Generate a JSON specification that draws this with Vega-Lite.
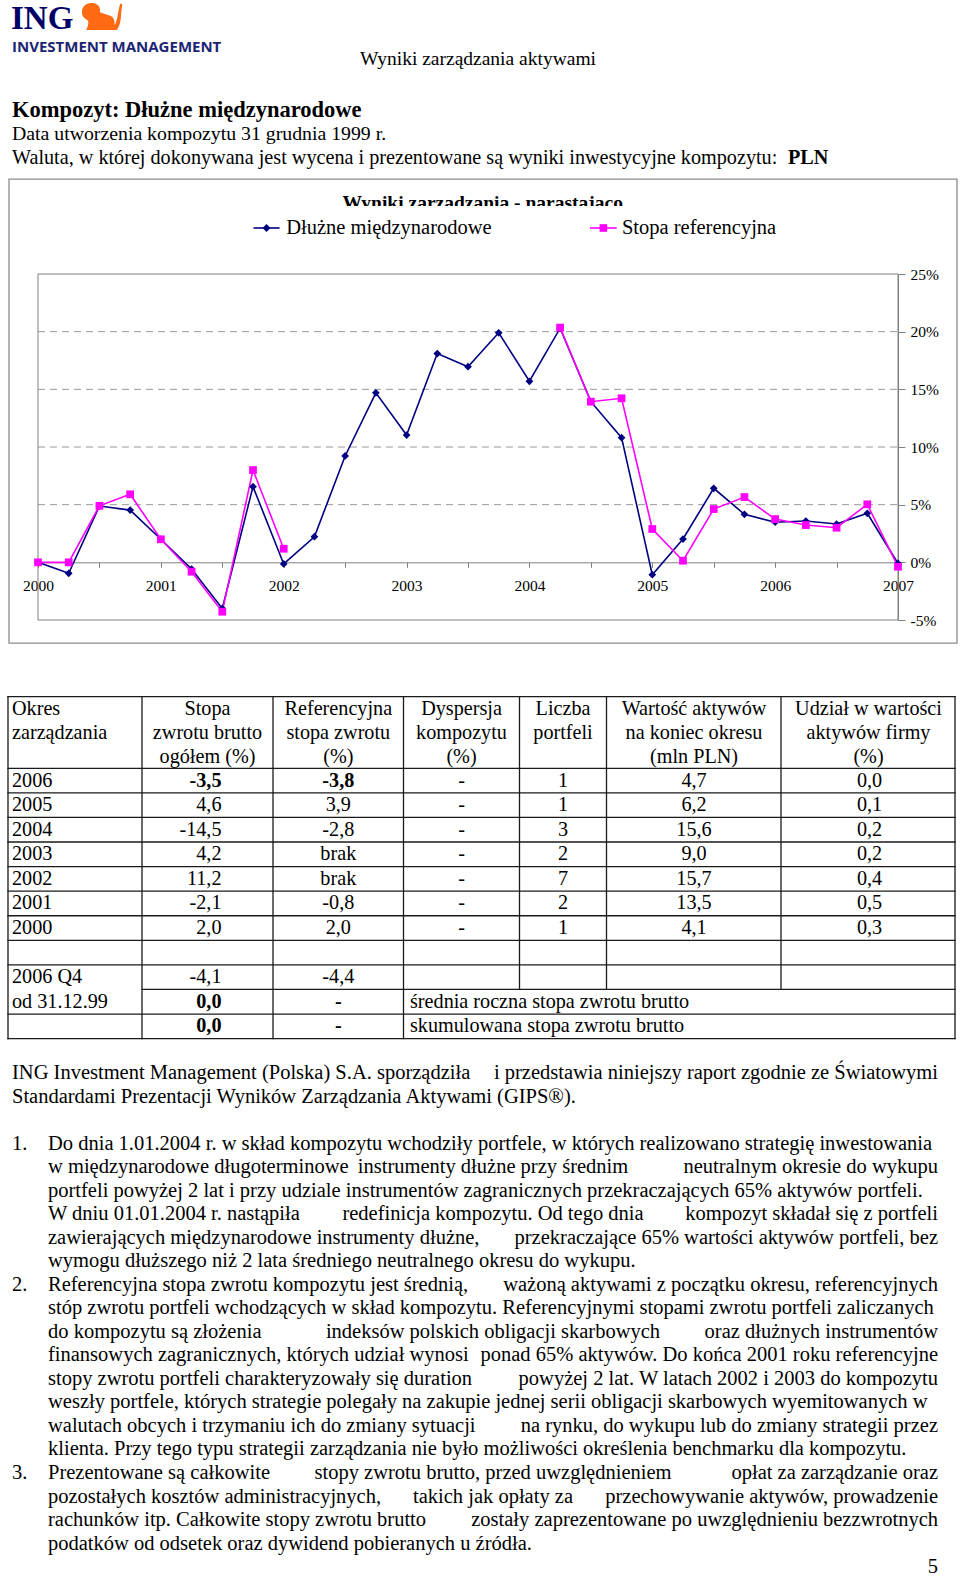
{
  "$schema": "https://vega.github.io/schema/vega-lite/v6.json",
  "width": 960,
  "height": 1578,
  "padding": 0,
  "autosize": {"type": "none"},
  "background": "#ffffff",
  "config": {"view": {"stroke": null}, "text": {"font": "Liberation Serif", "color": "#000000"}},
  "datasets": {
    "wyniki": [
      {"t": 2000, "Dłużne międzynarodowe": 0, "Stopa referencyjna": 0},
      {"t": 2000.25, "Dłużne międzynarodowe": -0.95, "Stopa referencyjna": 0},
      {"t": 2000.5, "Dłużne międzynarodowe": 4.88, "Stopa referencyjna": 4.9},
      {"t": 2000.75, "Dłużne międzynarodowe": 4.53, "Stopa referencyjna": 5.9},
      {"t": 2001, "Dłużne międzynarodowe": 2.0, "Stopa referencyjna": 2.0},
      {"t": 2001.25, "Dłużne międzynarodowe": -0.58, "Stopa referencyjna": -0.81},
      {"t": 2001.5, "Dłużne międzynarodowe": -4.0, "Stopa referencyjna": -4.28},
      {"t": 2001.75, "Dłużne międzynarodowe": 6.56, "Stopa referencyjna": 8.0},
      {"t": 2002, "Dłużne międzynarodowe": -0.14, "Stopa referencyjna": 1.18},
      {"t": 2002.25, "Dłużne międzynarodowe": 2.22, "Stopa referencyjna": null},
      {"t": 2002.5, "Dłużne międzynarodowe": 9.22, "Stopa referencyjna": null},
      {"t": 2002.75, "Dłużne międzynarodowe": 14.7, "Stopa referencyjna": null},
      {"t": 2003, "Dłużne międzynarodowe": 11.04, "Stopa referencyjna": null},
      {"t": 2003.25, "Dłużne międzynarodowe": 18.1, "Stopa referencyjna": null},
      {"t": 2003.5, "Dłużne międzynarodowe": 16.96, "Stopa referencyjna": null},
      {"t": 2003.75, "Dłużne międzynarodowe": 19.9, "Stopa referencyjna": null},
      {"t": 2004, "Dłużne międzynarodowe": 15.7, "Stopa referencyjna": null},
      {"t": 2004.25, "Dłużne międzynarodowe": 20.3, "Stopa referencyjna": 20.35},
      {"t": 2004.5, "Dłużne międzynarodowe": 13.93, "Stopa referencyjna": 13.93},
      {"t": 2004.75, "Dłużne międzynarodowe": 10.81, "Stopa referencyjna": 14.22},
      {"t": 2005, "Dłużne międzynarodowe": -1.07, "Stopa referencyjna": 2.89},
      {"t": 2005.25, "Dłużne międzynarodowe": 2.02, "Stopa referencyjna": 0.14},
      {"t": 2005.5, "Dłużne międzynarodowe": 6.42, "Stopa referencyjna": 4.62},
      {"t": 2005.75, "Dłużne międzynarodowe": 4.16, "Stopa referencyjna": 5.66},
      {"t": 2006, "Dłużne międzynarodowe": 3.48, "Stopa referencyjna": 3.75},
      {"t": 2006.25, "Dłużne międzynarodowe": 3.58, "Stopa referencyjna": 3.23},
      {"t": 2006.5, "Dłużne międzynarodowe": 3.32, "Stopa referencyjna": 3.0},
      {"t": 2006.75, "Dłużne międzynarodowe": 4.25, "Stopa referencyjna": 5.03},
      {"t": 2007, "Dłużne międzynarodowe": -0.1, "Stopa referencyjna": -0.38}
    ],
    "legenda": [
      {"seria": "Dłużne międzynarodowe"},
      {"seria": "Stopa referencyjna"}
    ],
    "tabela": [
      {"r": 1, "c": 1, "txt": "2006"}, {"r": 1, "c": 2, "txt": "-3,5"}, {"r": 1, "c": 3, "txt": "-3,8"}, {"r": 1, "c": 4, "txt": "-"}, {"r": 1, "c": 5, "txt": "1"}, {"r": 1, "c": 6, "txt": "4,7"}, {"r": 1, "c": 7, "txt": "0,0"},
      {"r": 2, "c": 1, "txt": "2005"}, {"r": 2, "c": 2, "txt": "4,6"}, {"r": 2, "c": 3, "txt": "3,9"}, {"r": 2, "c": 4, "txt": "-"}, {"r": 2, "c": 5, "txt": "1"}, {"r": 2, "c": 6, "txt": "6,2"}, {"r": 2, "c": 7, "txt": "0,1"},
      {"r": 3, "c": 1, "txt": "2004"}, {"r": 3, "c": 2, "txt": "-14,5"}, {"r": 3, "c": 3, "txt": "-2,8"}, {"r": 3, "c": 4, "txt": "-"}, {"r": 3, "c": 5, "txt": "3"}, {"r": 3, "c": 6, "txt": "15,6"}, {"r": 3, "c": 7, "txt": "0,2"},
      {"r": 4, "c": 1, "txt": "2003"}, {"r": 4, "c": 2, "txt": "4,2"}, {"r": 4, "c": 3, "txt": "brak"}, {"r": 4, "c": 4, "txt": "-"}, {"r": 4, "c": 5, "txt": "2"}, {"r": 4, "c": 6, "txt": "9,0"}, {"r": 4, "c": 7, "txt": "0,2"},
      {"r": 5, "c": 1, "txt": "2002"}, {"r": 5, "c": 2, "txt": "11,2"}, {"r": 5, "c": 3, "txt": "brak"}, {"r": 5, "c": 4, "txt": "-"}, {"r": 5, "c": 5, "txt": "7"}, {"r": 5, "c": 6, "txt": "15,7"}, {"r": 5, "c": 7, "txt": "0,4"},
      {"r": 6, "c": 1, "txt": "2001"}, {"r": 6, "c": 2, "txt": "-2,1"}, {"r": 6, "c": 3, "txt": "-0,8"}, {"r": 6, "c": 4, "txt": "-"}, {"r": 6, "c": 5, "txt": "2"}, {"r": 6, "c": 6, "txt": "13,5"}, {"r": 6, "c": 7, "txt": "0,5"},
      {"r": 7, "c": 1, "txt": "2000"}, {"r": 7, "c": 2, "txt": "2,0"}, {"r": 7, "c": 3, "txt": "2,0"}, {"r": 7, "c": 4, "txt": "-"}, {"r": 7, "c": 5, "txt": "1"}, {"r": 7, "c": 6, "txt": "4,1"}, {"r": 7, "c": 7, "txt": "0,3"},
      {"r": 9, "c": 1, "txt": "2006 Q4"}, {"r": 9, "c": 2, "txt": "-4,1"}, {"r": 9, "c": 3, "txt": "-4,4"},
      {"r": 10, "c": 1, "txt": "od 31.12.99"}, {"r": 10, "c": 2, "txt": "0,0"}, {"r": 10, "c": 3, "txt": "-"}, {"r": 10, "c": 4, "txt": "średnia roczna stopa zwrotu brutto"},
      {"r": 11, "c": 2, "txt": "0,0"}, {"r": 11, "c": 3, "txt": "-"}, {"r": 11, "c": 4, "txt": "skumulowana stopa zwrotu brutto"}
    ],
    "kolumny": [
      {"l": 0, "c": 1, "txt": "Okres"}, {"l": 1, "c": 1, "txt": "zarządzania"},
      {"l": 0, "c": 2, "txt": "Stopa"}, {"l": 1, "c": 2, "txt": "zwrotu brutto"}, {"l": 2, "c": 2, "txt": "ogółem (%)"},
      {"l": 0, "c": 3, "txt": "Referencyjna"}, {"l": 1, "c": 3, "txt": "stopa zwrotu"}, {"l": 2, "c": 3, "txt": "(%)"},
      {"l": 0, "c": 4, "txt": "Dyspersja"}, {"l": 1, "c": 4, "txt": "kompozytu"}, {"l": 2, "c": 4, "txt": "(%)"},
      {"l": 0, "c": 5, "txt": "Liczba"}, {"l": 1, "c": 5, "txt": "portfeli"},
      {"l": 0, "c": 6, "txt": "Wartość aktywów"}, {"l": 1, "c": 6, "txt": "na koniec okresu"}, {"l": 2, "c": 6, "txt": "(mln PLN)"},
      {"l": 0, "c": 7, "txt": "Udział w wartości"}, {"l": 1, "c": 7, "txt": "aktywów firmy"}, {"l": 2, "c": 7, "txt": "(%)"}
    ],
    "linie_poziome": [
      {"e": 0, "c0": 0, "c1": 7}, {"e": 1, "c0": 0, "c1": 7}, {"e": 2, "c0": 0, "c1": 7}, {"e": 3, "c0": 0, "c1": 7},
      {"e": 4, "c0": 0, "c1": 7}, {"e": 5, "c0": 0, "c1": 7}, {"e": 6, "c0": 0, "c1": 7}, {"e": 7, "c0": 0, "c1": 7},
      {"e": 8, "c0": 0, "c1": 7}, {"e": 9, "c0": 0, "c1": 7}, {"e": 10, "c0": 1, "c1": 7}, {"e": 11, "c0": 0, "c1": 7},
      {"e": 12, "c0": 0, "c1": 7}
    ],
    "linie_pionowe": [
      {"k": 0, "e0": 0, "e1": 12}, {"k": 1, "e0": 0, "e1": 12}, {"k": 2, "e0": 0, "e1": 12}, {"k": 3, "e0": 0, "e1": 12},
      {"k": 4, "e0": 0, "e1": 10}, {"k": 5, "e0": 0, "e1": 10}, {"k": 6, "e0": 0, "e1": 10}, {"k": 7, "e0": 0, "e1": 12}
    ],
    "stopka": [
      {"blk": "intro", "line": -3, "seg": "L", "text": "ING Investment Management (Polska) S.A. sporządziła"},
      {"blk": "intro", "line": -3, "seg": "R", "text": "i przedstawia niniejszy raport zgodnie ze Światowymi"},
      {"blk": "intro", "line": -2, "seg": "L", "text": "Standardami Prezentacji Wyników Zarządzania Aktywami (GIPS®)."},
      {"blk": "num", "line": 0, "seg": "L", "text": "1."},
      {"blk": "item", "line": 0, "seg": "L", "text": "Do dnia 1.01.2004 r. w skład kompozytu wchodziły portfele, w których realizowano strategię inwestowania"},
      {"blk": "item", "line": 1, "seg": "L", "text": "w międzynarodowe długoterminowe"},
      {"blk": "item", "line": 1, "seg": "C", "text": "instrumenty dłużne przy średnim"},
      {"blk": "item", "line": 1, "seg": "R", "text": "neutralnym okresie do wykupu"},
      {"blk": "item", "line": 2, "seg": "L", "text": "portfeli powyżej 2 lat i przy udziale instrumentów zagranicznych przekraczających 65% aktywów portfeli."},
      {"blk": "item", "line": 3, "seg": "L", "text": "W dniu 01.01.2004 r. nastąpiła"},
      {"blk": "item", "line": 3, "seg": "C", "text": "redefinicja kompozytu. Od tego dnia"},
      {"blk": "item", "line": 3, "seg": "R", "text": "kompozyt składał się z portfeli"},
      {"blk": "item", "line": 4, "seg": "L", "text": "zawierających międzynarodowe instrumenty dłużne,"},
      {"blk": "item", "line": 4, "seg": "R", "text": "przekraczające 65% wartości aktywów portfeli, bez"},
      {"blk": "item", "line": 5, "seg": "L", "text": "wymogu dłuższego niż 2 lata średniego neutralnego okresu do wykupu."},
      {"blk": "num", "line": 6, "seg": "L", "text": "2."},
      {"blk": "item", "line": 6, "seg": "L", "text": "Referencyjna stopa zwrotu kompozytu jest średnią,"},
      {"blk": "item", "line": 6, "seg": "R", "text": "ważoną aktywami z początku okresu, referencyjnych"},
      {"blk": "item", "line": 7, "seg": "L", "text": "stóp zwrotu portfeli wchodzących w skład kompozytu. Referencyjnymi stopami zwrotu portfeli zaliczanych"},
      {"blk": "item", "line": 8, "seg": "L", "text": "do kompozytu są złożenia"},
      {"blk": "item", "line": 8, "seg": "C", "text": "indeksów polskich obligacji skarbowych"},
      {"blk": "item", "line": 8, "seg": "R", "text": "oraz dłużnych instrumentów"},
      {"blk": "item", "line": 9, "seg": "L", "text": "finansowych zagranicznych, których udział wynosi"},
      {"blk": "item", "line": 9, "seg": "R", "text": "ponad 65% aktywów. Do końca 2001 roku referencyjne"},
      {"blk": "item", "line": 10, "seg": "L", "text": "stopy zwrotu portfeli charakteryzowały się duration"},
      {"blk": "item", "line": 10, "seg": "R", "text": "powyżej 2 lat. W latach 2002 i 2003 do kompozytu"},
      {"blk": "item", "line": 11, "seg": "L", "text": "weszły portfele, których strategie polegały na zakupie jednej serii obligacji skarbowych wyemitowanych w"},
      {"blk": "item", "line": 12, "seg": "L", "text": "walutach obcych i trzymaniu ich do zmiany sytuacji"},
      {"blk": "item", "line": 12, "seg": "R", "text": "na rynku, do wykupu lub do zmiany strategii przez"},
      {"blk": "item", "line": 13, "seg": "L", "text": "klienta. Przy tego typu strategii zarządzania nie było możliwości określenia benchmarku dla kompozytu."},
      {"blk": "num", "line": 14, "seg": "L", "text": "3."},
      {"blk": "item", "line": 14, "seg": "L", "text": "Prezentowane są całkowite"},
      {"blk": "item", "line": 14, "seg": "C", "text": "stopy zwrotu brutto, przed uwzględnieniem"},
      {"blk": "item", "line": 14, "seg": "R", "text": "opłat za zarządzanie oraz"},
      {"blk": "item", "line": 15, "seg": "L", "text": "pozostałych kosztów administracyjnych,"},
      {"blk": "item", "line": 15, "seg": "C", "text": "takich jak opłaty za"},
      {"blk": "item", "line": 15, "seg": "R", "text": "przechowywanie aktywów, prowadzenie"},
      {"blk": "item", "line": 16, "seg": "L", "text": "rachunków itp. Całkowite stopy zwrotu brutto"},
      {"blk": "item", "line": 16, "seg": "R", "text": "zostały zaprezentowane po uwzględnieniu bezzwrotnych"},
      {"blk": "item", "line": 17, "seg": "L", "text": "podatków od odsetek oraz dywidend pobieranych u źródła."},
      {"blk": "page", "line": 18, "seg": "R", "text": "5"}
    ]
  },
  "layer": [
    {
      "layer": [
        {
          "data": {"values": [{"logo": "ING"}]},
          "mark": {"type": "text", "font": "Liberation Serif", "fontWeight": "bold", "fontSize": 33, "color": "#000066", "align": "left", "baseline": "alphabetic"},
          "encoding": {"text": {"field": "logo"}, "x": {"value": 11}, "y": {"value": 29}}
        },
        {
          "data": {"values": [{"logo": "lew"}]},
          "mark": {"type": "point", "shape": "M-0.95,-0.15 C-1,-0.5 -0.7,-0.68 -0.45,-0.64 C-0.2,-0.62 -0.05,-0.45 -0.1,-0.2 L0.35,-0.05 C0.55,0 0.62,0.2 0.6,0.4 C0.75,0.2 0.75,-0.25 0.85,-0.55 C0.92,-0.7 1,-0.55 0.95,-0.45 C0.88,-0.1 0.95,0.35 0.7,0.64 L-0.75,0.64 C-0.7,0.5 -0.62,0.35 -0.66,0.2 C-0.85,0.1 -0.95,0 -0.95,-0.15 Z", "filled": true, "color": "#ff6a13", "size": 1764, "opacity": 1},
          "encoding": {"x": {"value": 102}, "y": {"value": 16.5}}
        },
        {
          "data": {"values": [{"logo": "INVESTMENT MANAGEMENT"}]},
          "mark": {"type": "text", "font": "Open Sans", "fontWeight": "bold", "fontSize": 15, "color": "#1c2473", "align": "left", "baseline": "alphabetic"},
          "encoding": {"text": {"field": "logo"}, "x": {"value": 12}, "y": {"value": 51.7}}
        },
        {
          "data": {"values": [{"tekst": "Wyniki zarządzania aktywami"}]},
          "mark": {"type": "text", "font": "Liberation Serif", "fontSize": 19.5, "align": "left", "baseline": "middle"},
          "encoding": {"text": {"field": "tekst"}, "x": {"value": 360}, "y": {"value": 58.5}}
        },
        {
          "data": {"values": [{"tekst": "Kompozyt: Dłużne międzynarodowe"}]},
          "mark": {"type": "text", "font": "Liberation Serif", "fontWeight": "bold", "fontSize": 22.5, "align": "left", "baseline": "middle"},
          "encoding": {"text": {"field": "tekst"}, "x": {"value": 12}, "y": {"value": 109.5}}
        },
        {
          "data": {"values": [{"tekst": "Data utworzenia kompozytu 31 grudnia 1999 r."}]},
          "mark": {"type": "text", "font": "Liberation Serif", "fontSize": 19.8, "align": "left", "baseline": "middle"},
          "encoding": {"text": {"field": "tekst"}, "x": {"value": 12}, "y": {"value": 134}}
        },
        {
          "data": {"values": [{"tekst": "Waluta, w której dokonywana jest wycena i prezentowane są wyniki inwestycyjne kompozytu:"}]},
          "mark": {"type": "text", "font": "Liberation Serif", "fontSize": 20.2, "align": "left", "baseline": "middle"},
          "encoding": {"text": {"field": "tekst"}, "x": {"value": 12}, "y": {"value": 158}}
        },
        {
          "data": {"values": [{"tekst": "PLN"}]},
          "mark": {"type": "text", "font": "Liberation Serif", "fontWeight": "bold", "fontSize": 20.2, "align": "left", "baseline": "middle"},
          "encoding": {"text": {"field": "tekst"}, "x": {"value": 788}, "y": {"value": 158}}
        }
      ]
    },
    {
      "layer": [
        {
          "data": {"values": [{"ramka": "wykres"}]},
          "mark": {"type": "rect", "fill": null, "stroke": "#8c8c8c", "strokeWidth": 1.3},
          "encoding": {
            "x": {"datum": 1999.764, "type": "quantitative", "scale": {"domain": [2000, 2007], "range": [38, 898], "nice": false, "zero": false}},
            "x2": {"datum": 2007.48},
            "y": {"datum": 33.23, "type": "quantitative", "scale": {"domain": [-5, 25], "range": [620, 274], "nice": false, "zero": false}},
            "y2": {"datum": -7.0}
          }
        },
        {
          "data": {"values": [{"poziom": 5}, {"poziom": 10}, {"poziom": 15}, {"poziom": 20}]},
          "mark": {"type": "rule", "stroke": "#9a9a9a", "strokeWidth": 1, "strokeDash": [7, 5]},
          "encoding": {
            "x": {"datum": 2000, "type": "quantitative", "scale": {"domain": [2000, 2007], "range": [38, 898], "nice": false, "zero": false}},
            "x2": {"datum": 2007},
            "y": {"field": "poziom", "type": "quantitative", "scale": {"domain": [-5, 25], "range": [620, 274], "nice": false, "zero": false}}
          }
        },
        {
          "data": {"values": [{"ramka": "obszar"}]},
          "mark": {"type": "rect", "fill": null, "stroke": "#808080", "strokeWidth": 1},
          "encoding": {
            "x": {"datum": 2000, "type": "quantitative", "scale": {"domain": [2000, 2007], "range": [38, 898], "nice": false, "zero": false}},
            "x2": {"datum": 2007},
            "y": {"datum": 25, "type": "quantitative", "scale": {"domain": [-5, 25], "range": [620, 274], "nice": false, "zero": false}},
            "y2": {"datum": -5}
          }
        },
        {
          "data": {"values": [{"tytul": "Wyniki zarządzania - narastająco"}]},
          "mark": {"type": "text", "font": "Liberation Serif", "fontWeight": "bold", "fontSize": 19.5, "align": "center", "baseline": "alphabetic"},
          "encoding": {
            "text": {"field": "tytul"},
            "x": {"datum": 2003.62, "type": "quantitative", "scale": {"domain": [2000, 2007], "range": [38, 898], "nice": false, "zero": false}},
            "y": {"datum": 30.63, "type": "quantitative", "scale": {"domain": [-5, 25], "range": [620, 274], "nice": false, "zero": false}}
          }
        },
        {
          "data": {"values": [{"tlo": "legenda"}]},
          "mark": {"type": "rect", "fill": "#ffffff", "stroke": null},
          "encoding": {
            "x": {"datum": 2002.3, "type": "quantitative", "scale": {"domain": [2000, 2007], "range": [38, 898], "nice": false, "zero": false}},
            "x2": {"datum": 2005.2},
            "y": {"datum": 30.89, "type": "quantitative", "scale": {"domain": [-5, 25], "range": [620, 274], "nice": false, "zero": false}},
            "y2": {"datum": 30.0}
          }
        },
        {
          "data": {"name": "legenda"},
          "transform": [{"filter": "datum.seria === 'Dłużne międzynarodowe'"}],
          "mark": {"type": "rule", "stroke": "#000080", "strokeWidth": 1.6},
          "encoding": {
            "x": {"datum": 2001.754, "type": "quantitative", "scale": {"domain": [2000, 2007], "range": [38, 898], "nice": false, "zero": false}},
            "x2": {"datum": 2001.966},
            "y": {"datum": 28.99, "type": "quantitative", "scale": {"domain": [-5, 25], "range": [620, 274], "nice": false, "zero": false}}
          }
        },
        {
          "data": {"name": "legenda"},
          "transform": [{"filter": "datum.seria === 'Dłużne międzynarodowe'"}],
          "mark": {"type": "point", "shape": "diamond", "filled": true, "color": "#000080", "size": 62, "opacity": 1},
          "encoding": {
            "x": {"datum": 2001.86, "type": "quantitative", "scale": {"domain": [2000, 2007], "range": [38, 898], "nice": false, "zero": false}},
            "y": {"datum": 28.99, "type": "quantitative", "scale": {"domain": [-5, 25], "range": [620, 274], "nice": false, "zero": false}}
          }
        },
        {
          "data": {"name": "legenda"},
          "transform": [{"filter": "datum.seria === 'Dłużne międzynarodowe'"}],
          "mark": {"type": "text", "font": "Liberation Serif", "fontSize": 20.5, "align": "left", "baseline": "middle"},
          "encoding": {
            "text": {"field": "seria"},
            "x": {"datum": 2002.02, "type": "quantitative", "scale": {"domain": [2000, 2007], "range": [38, 898], "nice": false, "zero": false}},
            "y": {"datum": 28.99, "type": "quantitative", "scale": {"domain": [-5, 25], "range": [620, 274], "nice": false, "zero": false}}
          }
        },
        {
          "data": {"name": "legenda"},
          "transform": [{"filter": "datum.seria === 'Stopa referencyjna'"}],
          "mark": {"type": "rule", "stroke": "#ff00ff", "strokeWidth": 1.6},
          "encoding": {
            "x": {"datum": 2004.493, "type": "quantitative", "scale": {"domain": [2000, 2007], "range": [38, 898], "nice": false, "zero": false}},
            "x2": {"datum": 2004.71},
            "y": {"datum": 28.99, "type": "quantitative", "scale": {"domain": [-5, 25], "range": [620, 274], "nice": false, "zero": false}}
          }
        },
        {
          "data": {"name": "legenda"},
          "transform": [{"filter": "datum.seria === 'Stopa referencyjna'"}],
          "mark": {"type": "point", "shape": "square", "filled": true, "color": "#ff00ff", "size": 58, "opacity": 1},
          "encoding": {
            "x": {"datum": 2004.602, "type": "quantitative", "scale": {"domain": [2000, 2007], "range": [38, 898], "nice": false, "zero": false}},
            "y": {"datum": 28.99, "type": "quantitative", "scale": {"domain": [-5, 25], "range": [620, 274], "nice": false, "zero": false}}
          }
        },
        {
          "data": {"name": "legenda"},
          "transform": [{"filter": "datum.seria === 'Stopa referencyjna'"}],
          "mark": {"type": "text", "font": "Liberation Serif", "fontSize": 20.5, "align": "left", "baseline": "middle"},
          "encoding": {
            "text": {"field": "seria"},
            "x": {"datum": 2004.753, "type": "quantitative", "scale": {"domain": [2000, 2007], "range": [38, 898], "nice": false, "zero": false}},
            "y": {"datum": 28.99, "type": "quantitative", "scale": {"domain": [-5, 25], "range": [620, 274], "nice": false, "zero": false}}
          }
        },
        {
          "data": {"name": "wyniki"},
          "transform": [
            {"fold": ["Dłużne międzynarodowe", "Stopa referencyjna"], "as": ["seria", "wartosc"]},
            {"filter": "datum.seria === 'Dłużne międzynarodowe'"}
          ],
          "mark": {"type": "line", "color": "#000080", "strokeWidth": 1.6},
          "encoding": {
            "x": {"field": "t", "type": "quantitative", "scale": {"domain": [2000, 2007], "range": [38, 898], "nice": false, "zero": false},
              "axis": {"orient": "bottom", "offset": -1015.7, "title": null, "grid": false,
                "values": [2000, 2000.25, 2000.5, 2000.75, 2001, 2001.25, 2001.5, 2001.75, 2002, 2002.25, 2002.5, 2002.75, 2003, 2003.25, 2003.5, 2003.75, 2004, 2004.25, 2004.5, 2004.75, 2005, 2005.25, 2005.5, 2005.75, 2006, 2006.25, 2006.5, 2006.75, 2007],
                "labelExpr": "datum.value % 1 === 0 ? format(datum.value, 'd') : ''",
                "domainColor": "#808080", "domainWidth": 1, "tickColor": "#808080", "tickWidth": 1, "tickSize": 5,
                "labelFont": "Liberation Serif", "labelFontSize": 15.5, "labelColor": "#000000", "labelPadding": 11.5,
                "labelFlush": false, "labelOverlap": false, "labelBound": false}},
            "y": {"field": "wartosc", "type": "quantitative", "scale": {"domain": [-5, 25], "range": [620, 274], "nice": false, "zero": false},
              "axis": {"orient": "right", "offset": -62, "title": null, "grid": false,
                "values": [-5, 0, 5, 10, 15, 20, 25],
                "labelExpr": "datum.value + '%'",
                "domainColor": "#808080", "domainWidth": 1, "tickColor": "#808080", "tickWidth": 1, "tickSize": 7,
                "labelFont": "Liberation Serif", "labelFontSize": 15.5, "labelColor": "#000000", "labelPadding": 5,
                "labelOverlap": false, "labelBound": false}}
          }
        },
        {
          "data": {"name": "wyniki"},
          "transform": [
            {"fold": ["Dłużne międzynarodowe", "Stopa referencyjna"], "as": ["seria", "wartosc"]},
            {"filter": "datum.seria === 'Stopa referencyjna'"}
          ],
          "mark": {"type": "line", "color": "#ff00ff", "strokeWidth": 1.6, "invalid": "break-paths-filter-domains"},
          "encoding": {
            "x": {"field": "t", "type": "quantitative", "scale": {"domain": [2000, 2007], "range": [38, 898], "nice": false, "zero": false}},
            "y": {"field": "wartosc", "type": "quantitative", "scale": {"domain": [-5, 25], "range": [620, 274], "nice": false, "zero": false}}
          }
        },
        {
          "data": {"name": "wyniki"},
          "transform": [
            {"fold": ["Dłużne międzynarodowe", "Stopa referencyjna"], "as": ["seria", "wartosc"]},
            {"filter": "isValid(datum.wartosc)"}
          ],
          "mark": {"type": "point", "filled": true, "size": 60, "opacity": 1},
          "encoding": {
            "x": {"field": "t", "type": "quantitative", "scale": {"domain": [2000, 2007], "range": [38, 898], "nice": false, "zero": false}},
            "y": {"field": "wartosc", "type": "quantitative", "scale": {"domain": [-5, 25], "range": [620, 274], "nice": false, "zero": false}},
            "color": {"field": "seria", "type": "nominal",
              "scale": {"domain": ["Dłużne międzynarodowe", "Stopa referencyjna"], "range": ["#000080", "#ff00ff"]},
              "legend": null},
            "shape": {"field": "seria", "type": "nominal",
              "scale": {"domain": ["Dłużne międzynarodowe", "Stopa referencyjna"], "range": ["diamond", "square"]},
              "legend": null}
          }
        }
      ]
    },
    {
      "layer": [
        {
          "data": {"name": "linie_poziome"},
          "mark": {"type": "rule", "stroke": "#1a1a1a", "strokeWidth": 1.3, "strokeCap": "square"},
          "encoding": {
            "x": {"field": "c0", "type": "quantitative", "scale": {"domain": [0, 1, 2, 3, 4, 5, 6, 7], "range": [8, 142, 273, 403.5, 519.5, 606.5, 781, 955], "nice": false, "zero": false}, "axis": null},
            "x2": {"field": "c1"},
            "y": {"field": "e", "type": "quantitative", "scale": {"domain": [0, 1, 12], "range": [696.7, 768.3, 1038.6], "nice": false, "zero": false}, "axis": null}
          }
        },
        {
          "data": {"name": "linie_pionowe"},
          "mark": {"type": "rule", "stroke": "#1a1a1a", "strokeWidth": 1.3, "strokeCap": "square"},
          "encoding": {
            "x": {"field": "k", "type": "quantitative", "scale": {"domain": [0, 1, 2, 3, 4, 5, 6, 7], "range": [8, 142, 273, 403.5, 519.5, 606.5, 781, 955], "nice": false, "zero": false}, "axis": null},
            "y": {"field": "e0", "type": "quantitative", "scale": {"domain": [0, 1, 12], "range": [696.7, 768.3, 1038.6], "nice": false, "zero": false}, "axis": null},
            "y2": {"field": "e1"}
          }
        }
      ]
    },
    {
      "data": {"name": "kolumny"},
      "layer": [
        {
          "transform": [{"filter": "datum.c === 1"}],
          "mark": {"type": "text", "font": "Liberation Serif", "fontSize": 20.2, "align": "left", "baseline": "middle"},
          "encoding": {
            "text": {"field": "txt"},
            "x": {"field": "c", "type": "quantitative", "scale": {"domain": [1, 2, 3, 4, 5, 6, 7], "range": [12, 207.5, 338.3, 461.5, 563, 694, 868.5], "nice": false, "zero": false}, "axis": null},
            "y": {"field": "l", "type": "quantitative", "scale": {"domain": [0, 2], "range": [709.3, 756.7], "nice": false, "zero": false}, "axis": null}
          }
        },
        {
          "transform": [{"filter": "datum.c > 1"}],
          "mark": {"type": "text", "font": "Liberation Serif", "fontSize": 20.2, "align": "center", "baseline": "middle"},
          "encoding": {
            "text": {"field": "txt"},
            "x": {"field": "c", "type": "quantitative", "scale": {"domain": [1, 2, 3, 4, 5, 6, 7], "range": [12, 207.5, 338.3, 461.5, 563, 694, 868.5], "nice": false, "zero": false}, "axis": null},
            "y": {"field": "l", "type": "quantitative", "scale": {"domain": [0, 2], "range": [709.3, 756.7], "nice": false, "zero": false}, "axis": null}
          }
        }
      ]
    },
    {
      "data": {"name": "tabela"},
      "layer": [
        {
          "transform": [{"filter": "datum.c === 1"}],
          "mark": {"type": "text", "font": "Liberation Serif", "fontSize": 20.2, "align": "left", "baseline": "middle"},
          "encoding": {
            "text": {"field": "txt"},
            "x": {"field": "c", "type": "quantitative", "scale": {"domain": [1, 2, 3, 4, 5, 6, 7], "range": [12, 207.5, 338.3, 461.5, 563, 694, 869.5], "nice": false, "zero": false}, "axis": null},
            "y": {"field": "r", "type": "quantitative", "scale": {"domain": [1, 11], "range": [780.6, 1026.3], "nice": false, "zero": false}, "axis": null}
          }
        },
        {
          "transform": [{"filter": "datum.c === 2 && !(datum.r === 1 || datum.r >= 10)"}],
          "mark": {"type": "text", "font": "Liberation Serif", "fontSize": 20.2, "align": "right", "baseline": "middle", "dx": 14},
          "encoding": {
            "text": {"field": "txt"},
            "x": {"field": "c", "type": "quantitative", "scale": {"domain": [1, 2, 3, 4, 5, 6, 7], "range": [12, 207.5, 338.3, 461.5, 563, 694, 869.5], "nice": false, "zero": false}, "axis": null},
            "y": {"field": "r", "type": "quantitative", "scale": {"domain": [1, 11], "range": [780.6, 1026.3], "nice": false, "zero": false}, "axis": null}
          }
        },
        {
          "transform": [{"filter": "datum.c === 2 && (datum.r === 1 || datum.r >= 10)"}],
          "mark": {"type": "text", "font": "Liberation Serif", "fontSize": 20.2, "fontWeight": "bold", "align": "right", "baseline": "middle", "dx": 14},
          "encoding": {
            "text": {"field": "txt"},
            "x": {"field": "c", "type": "quantitative", "scale": {"domain": [1, 2, 3, 4, 5, 6, 7], "range": [12, 207.5, 338.3, 461.5, 563, 694, 869.5], "nice": false, "zero": false}, "axis": null},
            "y": {"field": "r", "type": "quantitative", "scale": {"domain": [1, 11], "range": [780.6, 1026.3], "nice": false, "zero": false}, "axis": null}
          }
        },
        {
          "transform": [{"filter": "datum.c === 3 && (datum.r === 1 || datum.r >= 10)"}],
          "mark": {"type": "text", "font": "Liberation Serif", "fontSize": 20.2, "fontWeight": "bold", "align": "center", "baseline": "middle"},
          "encoding": {
            "text": {"field": "txt"},
            "x": {"field": "c", "type": "quantitative", "scale": {"domain": [1, 2, 3, 4, 5, 6, 7], "range": [12, 207.5, 338.3, 461.5, 563, 694, 869.5], "nice": false, "zero": false}, "axis": null},
            "y": {"field": "r", "type": "quantitative", "scale": {"domain": [1, 11], "range": [780.6, 1026.3], "nice": false, "zero": false}, "axis": null}
          }
        },
        {
          "transform": [{"filter": "datum.c >= 3 && !(datum.c === 3 && (datum.r === 1 || datum.r >= 10)) && !(datum.c === 4 && datum.r >= 10)"}],
          "mark": {"type": "text", "font": "Liberation Serif", "fontSize": 20.2, "align": "center", "baseline": "middle"},
          "encoding": {
            "text": {"field": "txt"},
            "x": {"field": "c", "type": "quantitative", "scale": {"domain": [1, 2, 3, 4, 5, 6, 7], "range": [12, 207.5, 338.3, 461.5, 563, 694, 869.5], "nice": false, "zero": false}, "axis": null},
            "y": {"field": "r", "type": "quantitative", "scale": {"domain": [1, 11], "range": [780.6, 1026.3], "nice": false, "zero": false}, "axis": null}
          }
        },
        {
          "transform": [{"filter": "datum.c === 4 && datum.r >= 10"}],
          "mark": {"type": "text", "font": "Liberation Serif", "fontSize": 20.2, "align": "left", "baseline": "middle", "dx": -51.5},
          "encoding": {
            "text": {"field": "txt"},
            "x": {"field": "c", "type": "quantitative", "scale": {"domain": [1, 2, 3, 4, 5, 6, 7], "range": [12, 207.5, 338.3, 461.5, 563, 694, 869.5], "nice": false, "zero": false}, "axis": null},
            "y": {"field": "r", "type": "quantitative", "scale": {"domain": [1, 11], "range": [780.6, 1026.3], "nice": false, "zero": false}, "axis": null}
          }
        }
      ]
    },
    {
      "data": {"name": "stopka"},
      "layer": [
        {
          "transform": [{"filter": "datum.blk === 'intro' && datum.seg === 'L'"}],
          "mark": {"type": "text", "font": "Liberation Serif", "fontSize": 20.5, "align": "left", "baseline": "middle"},
          "encoding": {"text": {"field": "text"}, "x": {"value": 12},
            "y": {"field": "line", "type": "quantitative", "scale": {"domain": [-3, 18], "range": [1073, 1567.1], "nice": false, "zero": false}, "axis": null}}
        },
        {
          "transform": [{"filter": "datum.blk === 'intro' && datum.seg === 'R'"}],
          "mark": {"type": "text", "font": "Liberation Serif", "fontSize": 20.5, "align": "right", "baseline": "middle"},
          "encoding": {"text": {"field": "text"}, "x": {"value": 938},
            "y": {"field": "line", "type": "quantitative", "scale": {"domain": [-3, 18], "range": [1073, 1567.1], "nice": false, "zero": false}, "axis": null}}
        },
        {
          "transform": [{"filter": "datum.blk === 'num'"}],
          "mark": {"type": "text", "font": "Liberation Serif", "fontSize": 20.5, "align": "left", "baseline": "middle"},
          "encoding": {"text": {"field": "text"}, "x": {"value": 12},
            "y": {"field": "line", "type": "quantitative", "scale": {"domain": [-3, 18], "range": [1073, 1567.1], "nice": false, "zero": false}, "axis": null}}
        },
        {
          "transform": [{"filter": "datum.blk === 'item' && datum.seg === 'L'"}],
          "mark": {"type": "text", "font": "Liberation Serif", "fontSize": 20.5, "align": "left", "baseline": "middle"},
          "encoding": {"text": {"field": "text"}, "x": {"value": 48},
            "y": {"field": "line", "type": "quantitative", "scale": {"domain": [-3, 18], "range": [1073, 1567.1], "nice": false, "zero": false}, "axis": null}}
        },
        {
          "transform": [{"filter": "datum.blk === 'item' && datum.seg === 'C'"}],
          "mark": {"type": "text", "font": "Liberation Serif", "fontSize": 20.5, "align": "center", "baseline": "middle"},
          "encoding": {"text": {"field": "text"}, "x": {"value": 493},
            "y": {"field": "line", "type": "quantitative", "scale": {"domain": [-3, 18], "range": [1073, 1567.1], "nice": false, "zero": false}, "axis": null}}
        },
        {
          "transform": [{"filter": "(datum.blk === 'item' || datum.blk === 'page') && datum.seg === 'R'"}],
          "mark": {"type": "text", "font": "Liberation Serif", "fontSize": 20.5, "align": "right", "baseline": "middle"},
          "encoding": {"text": {"field": "text"}, "x": {"value": 938},
            "y": {"field": "line", "type": "quantitative", "scale": {"domain": [-3, 18], "range": [1073, 1567.1], "nice": false, "zero": false}, "axis": null}}
        }
      ]
    }
  ],
  "resolve": {"scale": {"x": "independent", "y": "independent"}, "axis": {"x": "independent", "y": "independent"}}
}
